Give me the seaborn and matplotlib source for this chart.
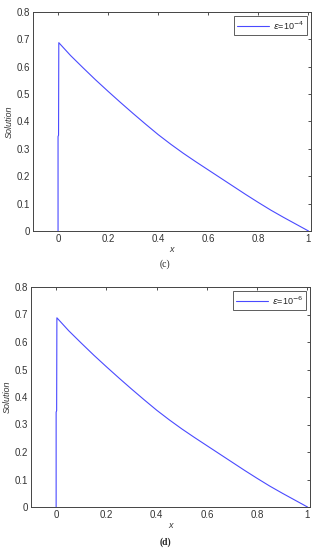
import matplotlib
matplotlib.use("Agg")
import matplotlib.pyplot as plt
import seaborn as sns
import pandas as pd

# data
x_vals = [0.0, 0.0, 0.002, 0.003, 0.05, 0.1, 0.15, 0.2, 0.25, 0.3, 0.35, 0.4, 0.45, 0.5,
          0.55, 0.6, 0.65, 0.7, 0.75, 0.8, 0.85, 0.9, 0.95, 1.0]
sol_c = [0.0, 0.345, 0.35, 0.688, 0.641, 0.596, 0.552, 0.51, 0.469, 0.429, 0.39, 0.352, 0.317, 0.284,
         0.253, 0.223, 0.193, 0.163, 0.133, 0.104, 0.076, 0.05, 0.025, 0.0]
sol_d = [0.0, 0.345, 0.35, 0.688, 0.641, 0.596, 0.552, 0.51, 0.469, 0.429, 0.39, 0.352, 0.317, 0.284,
         0.253, 0.223, 0.193, 0.163, 0.133, 0.104, 0.076, 0.05, 0.025, 0.0]
legend_c = r'$\epsilon$=10$^{-4}$'
legend_d = r'$\epsilon$=10$^{-6}$'
x_ticks = [0, 0.2, 0.4, 0.6, 0.8, 1]
x_ticklabels = ['0', '0.2', '0.4', '0.6', '0.8', '1']
y_ticks = [0, 0.1, 0.2, 0.3, 0.4, 0.5, 0.6, 0.7, 0.8]
y_ticklabels = ['0', '0.1', '0.2', '0.3', '0.4', '0.5', '0.6', '0.7', '0.8']
captions = ['(c)', '(d)']

sns.set_style("white")
plt.rcParams['font.family'] = ['Liberation Sans', 'DejaVu Sans']
plt.rcParams['mathtext.fontset'] = 'dejavusans'

fig = plt.figure(figsize=(3.18, 5.5), dpi=100)
ax_c = fig.add_axes([33/318, 1 - 231/550, (311-33)/318, (231-12)/550])
ax_d = fig.add_axes([31/318, 1 - 507/550, (310-31)/318, (507-287)/550])

for ax, sol, lab, cap, cap_y, bold in [
        (ax_c, sol_c, legend_c, captions[0], 264, False),
        (ax_d, sol_d, legend_d, captions[1], 542, True)]:
    df = pd.DataFrame({'x': x_vals, 'Solution': sol, 'series': lab})
    sns.lineplot(data=df, x='x', y='Solution', hue='series', palette=['#4a4aff'],
                 sort=False, estimator=None, linewidth=0.8, ax=ax)
    ax.set_xlim(-0.1, 1.01)
    ax.set_ylim(0, 0.8)
    ax.set_xticks(x_ticks)
    ax.set_xticklabels(x_ticklabels)
    ax.set_yticks(y_ticks)
    ax.set_yticklabels(y_ticklabels)
    ax.tick_params(direction='in', length=2.5, width=0.6, labelsize=7,
                   top=True, right=True, colors='#333333', pad=2)
    for s in ax.spines.values():
        s.set_color('#444444')
        s.set_linewidth(0.7)
    ax.set_xlabel('x', fontsize=6.5, style='italic', color='#333333', labelpad=1)
    ax.set_ylabel('Solution', fontsize=6.5, style='italic', color='#333333', labelpad=2)
    leg = ax.legend(loc='upper right', fontsize=6.5, frameon=True, fancybox=False,
                    edgecolor='#333333', handlelength=3.5, borderpad=0.4,
                    borderaxespad=0.4, handletextpad=0.4)
    leg.get_frame().set_linewidth(0.7)
    fig.text(165/318, 1 - cap_y/550, cap, ha='center', va='center', fontsize=7,
             family='Liberation Serif', fontweight='bold' if bold else 'normal')

fig.savefig('out.png', dpi=100)
